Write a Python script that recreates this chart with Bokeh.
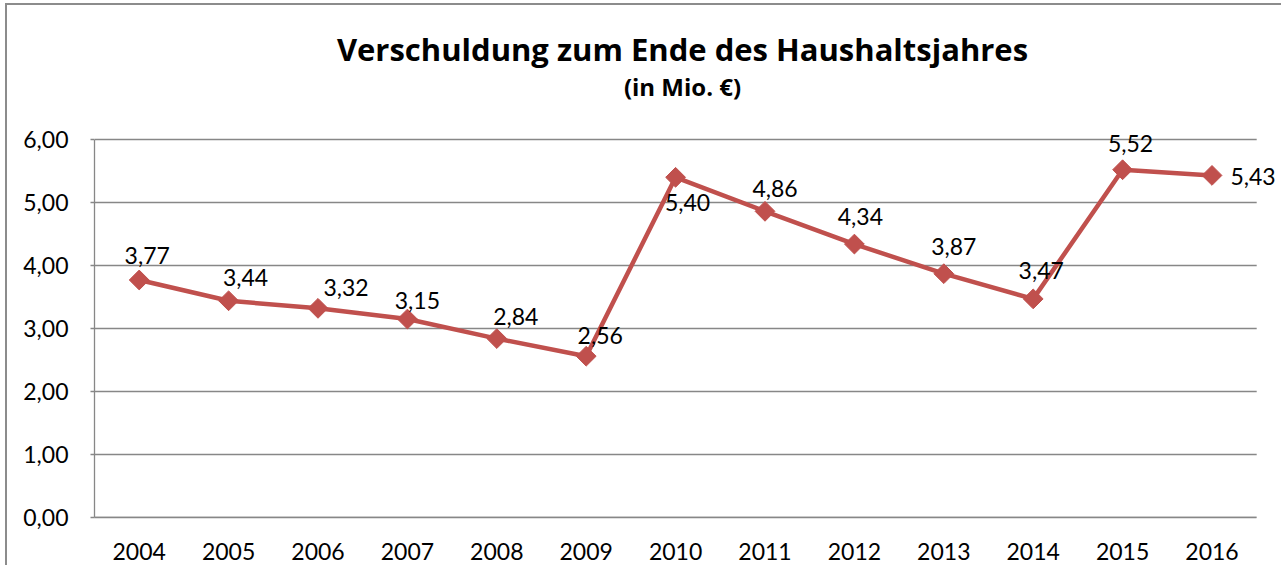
from bokeh.plotting import figure
from bokeh.models import ColumnDataSource, LabelSet, Label, Range1d, FixedTicker
from bokeh.core.properties import value
from bokeh.embed import file_html
from bokeh.resources import INLINE
import math

# ---- data ----
years = ["2004", "2005", "2006", "2007", "2008", "2009", "2010",
         "2011", "2012", "2013", "2014", "2015", "2016"]
debt = [3.77, 3.44, 3.32, 3.15, 2.84, 2.56, 5.40, 4.86, 4.34, 3.87, 3.47, 5.52, 5.43]
value_labels = ["3,77", "3,44", "3,32", "3,15", "2,84", "2,56", "5,40",
                "4,86", "4,34", "3,87", "3,47", "5,52", "5,43"]
y_ticks = [0, 1, 2, 3, 4, 5, 6]
y_tick_labels = ["0,00", "1,00", "2,00", "3,00", "4,00", "5,00", "6,00"]
title_text = "Verschuldung zum Ende des Haushaltsjahres"
subtitle_text = "(in Mio. €)"

# label placement (pixels, style only)
label_dx = [8, 17, 28, 10, 19, 14, 12, 10, 6, 10, 8, 8, 41]
label_dy = [24, 23, 21, 19, 22, 21, -25, 23, 28, 27, 28, 26, -1]

FONT = "Lato"
TFONT = "Open Sans"
RED = "#C0504D"
GRID = "#878787"

n = len(years)
xs = [i + 0.5 for i in range(n)]
src = ColumnDataSource(dict(x=xs, y=debt, t=value_labels, dx=label_dx, dy=label_dy))

# layout geometry (pixels)
SLOT = 89.4      # width of one year slot
UNIT = 63.0      # pixels per 1 Mio.
FRAME_W = 1188
FRAME_H = 512    # frame reaches the top of the canvas, titles sit inside it

p = figure(x_range=Range1d(0, FRAME_W / SLOT), y_range=Range1d(0, FRAME_H / UNIT),
           width=1276, height=562,
           min_border_left=87, min_border_right=1,
           min_border_top=0, min_border_bottom=50,
           toolbar_location=None, output_backend="svg")
p.outline_line_color = None
p.background_fill_color = "white"
p.border_fill_color = "white"
p.styles = {"margin-left": "5px", "margin-top": "3px",
            "border-left": "2px solid #8c8c8c", "border-top": "2px solid #8c8c8c"}

# gridlines (spanning the category area only)
p.segment(x0=[0] * len(y_ticks), x1=[n] * len(y_ticks), y0=y_ticks, y1=y_ticks,
          line_color=GRID, line_width=1.3)
p.xgrid.grid_line_color = None
p.ygrid.grid_line_color = None

# axes
p.yaxis.ticker = FixedTicker(ticks=y_ticks)
p.yaxis.bounds = (y_ticks[0], y_ticks[-1])
p.yaxis.major_label_overrides = {t: l for t, l in zip(y_ticks, y_tick_labels)}
p.yaxis.axis_line_color = GRID
p.yaxis.axis_line_width = 1.3
p.yaxis.major_tick_line_color = GRID
p.yaxis.major_tick_line_width = 1.3
p.yaxis.major_tick_in = 0
p.yaxis.major_tick_out = 4
p.yaxis.minor_tick_line_color = None
p.yaxis.major_label_standoff = 22
p.yaxis.major_label_text_font = FONT
p.yaxis.major_label_text_font_size = "23px"
p.yaxis.major_label_text_color = "black"

p.xaxis.ticker = FixedTicker(ticks=xs)
p.xaxis.bounds = (0, n)
p.xaxis.major_label_overrides = {x: y for x, y in zip(xs, years)}
p.xaxis.axis_line_color = GRID
p.xaxis.axis_line_width = 1.3
p.xaxis.major_tick_line_color = None
p.xaxis.minor_tick_line_color = None
p.xaxis.major_label_standoff = 19
p.xaxis.major_label_text_font = FONT
p.xaxis.major_label_text_font_size = "23px"
p.xaxis.major_label_text_color = "black"

# series
p.line("x", "y", source=src, line_color=RED, line_width=4.5)
p.scatter("x", "y", source=src, marker="square", size=14, angle=math.pi / 4,
          fill_color=RED, line_color=RED, line_width=1)

labels = LabelSet(x="x", y="y", text="t", source=src,
                  x_offset="dx", y_offset="dy",
                  text_align="center", text_baseline="middle",
                  text_font=value(FONT), text_font_size=value("23px"),
                  text_color="black")
p.add_layout(labels)

# titles, placed inside the (tall) frame above the 6,00 gridline
p.add_layout(Label(x=6.577, y=7.43, text=title_text,
                   text_align="center", text_baseline="alphabetic",
                   text_font=TFONT, text_font_style="bold", text_font_size="31px",
                   text_color="black"))
p.add_layout(Label(x=6.577, y=6.84, text=subtitle_text,
                   text_align="center", text_baseline="alphabetic",
                   text_font=TFONT, text_font_style="bold", text_font_size="24px",
                   text_color="black"))

open("out.html", "w").write(file_html(p, INLINE))
